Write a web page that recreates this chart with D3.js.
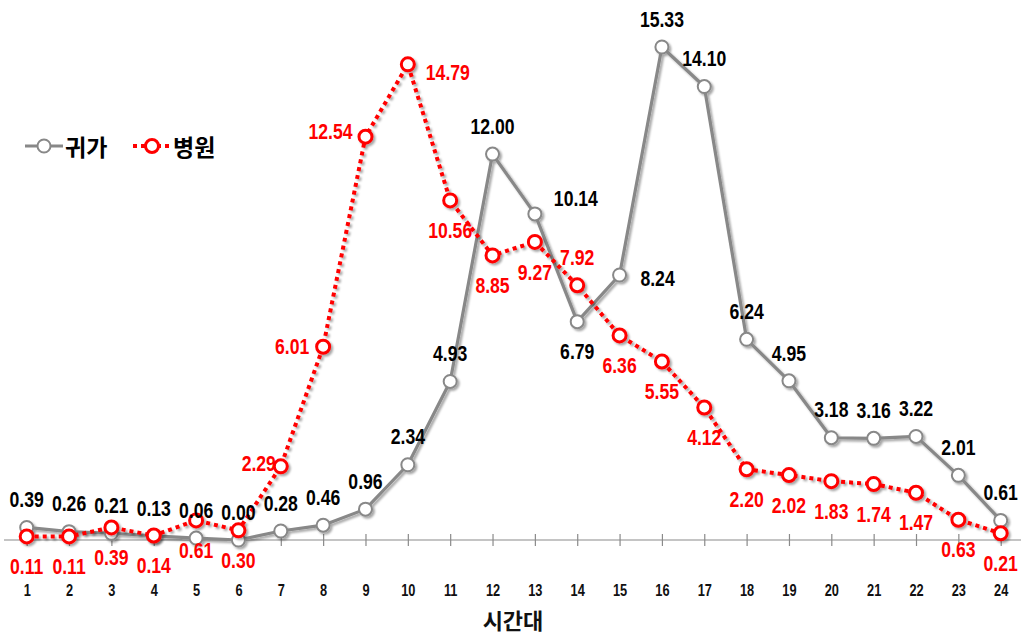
<!DOCTYPE html>
<html>
<head>
<meta charset="utf-8">
<script src="https://cdn.jsdelivr.net/npm/d3@7/dist/d3.min.js"></script>
<style>
  html, body { margin: 0; padding: 0; background: #fff; }
  svg { display: block; }
</style>
</head>
<body>
<svg id="chart" width="1023" height="635"></svg>
<script>
// Hour-of-day buckets
const hours = ["1","2","3","4","5","6","7","8","9","10","11","12","13","14","15","16","17","18","19","20","21","22","23","24"];

// 귀가 (went home) share by hour
const homeValues = [0.39, 0.26, 0.21, 0.13, 0.06, 0.00, 0.28, 0.46, 0.96, 2.34, 4.93, 12.00,
                    10.14, 6.79, 8.24, 15.33, 14.10, 6.24, 4.95, 3.18, 3.16, 3.22, 2.01, 0.61];

// 병원 (hospital) share by hour
const hospitalValues = [0.11, 0.11, 0.39, 0.14, 0.61, 0.30, 2.29, 6.01, 12.54, 14.79, 10.56, 8.85,
                        9.27, 7.92, 6.36, 5.55, 4.12, 2.20, 2.02, 1.83, 1.74, 1.47, 0.63, 0.21];

const seriesNames = ["귀가", "병원"];
const axisTitle = "시간대";

// Where each value label sits relative to its point
const homeLabelSide = ["a","a","a","a","a","a","a","a","a","a","a","a",
                       "r13","b","r15","a","a","a","a","a","a","a","a","a"];
const hospitalLabelSide = ["b","b","b","b","b","b","l7","l8","l9","r10","b","b",
                           "b","a","b","b","b","b","b","b","b","b","b","b"];

const labelOffsets = {
  a:   [0, -28],
  b:   [0, 30],
  r13: [41, -16],
  r15: [38, 3],
  l7:  [-22, -3],
  l8:  [-31, 0],
  l9:  [-35, -5],
  r10: [40, 8]
};

// Condensed look: regular sans squeezed horizontally
const narrowFont = "'Liberation Sans', Arial, sans-serif";
const squeeze = 0.8;

const svg = d3.select("#chart");

// Soft shadow under the lines and markers
const defs = svg.append("defs");
const shadow = defs.append("filter").attr("id", "shadow")
  .attr("x", "-20%").attr("y", "-20%").attr("width", "140%").attr("height", "140%");
shadow.append("feDropShadow")
  .attr("dx", 2).attr("dy", 2).attr("stdDeviation", 1.3)
  .attr("flood-color", "#000").attr("flood-opacity", 0.35);

const x = d3.scalePoint().domain(hours).range([26.7, 1000.7]);
const y = d3.scaleLinear().domain([0, 16]).range([540, 540 - 16 * 32.16]);

// Category axis
svg.append("line")
  .attr("x1", 4).attr("x2", 1021)
  .attr("y1", 540).attr("y2", 540)
  .attr("stroke", "#8a8a8a").attr("stroke-width", 1.2);

const axis = svg.append("g")
  .attr("transform", "translate(0,540)")
  .call(d3.axisBottom(x).tickSize(6).tickPadding(44).tickSizeOuter(0));
axis.select(".domain").remove();
axis.selectAll(".tick line")
  .attr("y1", -6).attr("y2", 6)
  .attr("stroke", "#8a8a8a").attr("stroke-width", 1.2);
axis.selectAll(".tick text")
  .attr("font-family", narrowFont)
  .attr("font-weight", "bold")
  .attr("font-size", 16)
  .attr("fill", "#111")
  .attr("y", null)
  .attr("dy", "0.35em")
  .attr("transform", `translate(0,50) scale(${squeeze},1)`);

svg.append("text")
  .attr("x", 513).attr("y", 619)
  .attr("text-anchor", "middle").attr("dominant-baseline", "central")
  .attr("font-family", "'Noto Sans CJK KR', sans-serif")
  .attr("font-weight", "bold").attr("font-size", 22)
  .attr("fill", "#111")
  .text(axisTitle);

const line = d3.line()
  .x((d, i) => x(hours[i]))
  .y(d => y(d));

function drawSeries(values, color, width, dash, markerStroke) {
  const g = svg.append("g").attr("filter", "url(#shadow)");
  g.append("path")
    .datum(values)
    .attr("d", line)
    .attr("fill", "none")
    .attr("stroke", color)
    .attr("stroke-width", width)
    .attr("stroke-dasharray", dash)
    .attr("stroke-linejoin", "round");
  g.selectAll("circle")
    .data(values)
    .join("circle")
    .attr("cx", (d, i) => x(hours[i]))
    .attr("cy", d => y(d))
    .attr("r", 6.5)
    .attr("fill", "#fff")
    .attr("stroke", color)
    .attr("stroke-width", markerStroke);
}

drawSeries(homeValues, "#888888", 3.2, null, 2);
drawSeries(hospitalValues, "#ff0000", 4, "4,4", 3);

function drawLabels(values, sides, color) {
  svg.append("g").selectAll("text")
    .data(values)
    .join("text")
    .attr("transform", (d, i) => {
      const px = x(hours[i]) + labelOffsets[sides[i]][0];
      const py = y(d) + labelOffsets[sides[i]][1];
      return `translate(${px},${py}) scale(${squeeze},1)`;
    })
    .attr("text-anchor", "middle")
    .attr("dominant-baseline", "central")
    .attr("font-family", narrowFont)
    .attr("font-weight", "bold")
    .attr("font-size", 22)
    .attr("fill", color)
    .text(d => d.toFixed(2));
}

drawLabels(homeValues, homeLabelSide, "#000");
drawLabels(hospitalValues, hospitalLabelSide, "#ff0000");

// Legend
const legend = svg.append("g");
const legendItems = [
  { name: seriesNames[0], color: "#888888", width: 3.2, dash: null, stroke: 2, x0: 25 },
  { name: seriesNames[1], color: "#ff0000", width: 4, dash: "4,4", stroke: 3, x0: 133 }
];
legendItems.forEach(item => {
  legend.append("line")
    .attr("x1", item.x0).attr("x2", item.x0 + 38)
    .attr("y1", 146).attr("y2", 146)
    .attr("stroke", item.color).attr("stroke-width", item.width)
    .attr("stroke-dasharray", item.dash);
  legend.append("circle")
    .attr("cx", item.x0 + 19).attr("cy", 146).attr("r", 6.5)
    .attr("fill", "#fff").attr("stroke", item.color).attr("stroke-width", item.stroke);
  legend.append("text")
    .attr("x", item.x0 + 40).attr("y", 146)
    .attr("dominant-baseline", "central")
    .attr("font-family", "'Noto Sans CJK KR', sans-serif")
    .attr("font-weight", "bold").attr("font-size", 23)
    .attr("fill", "#000")
    .text(item.name);
});
</script>
</body>
</html>
